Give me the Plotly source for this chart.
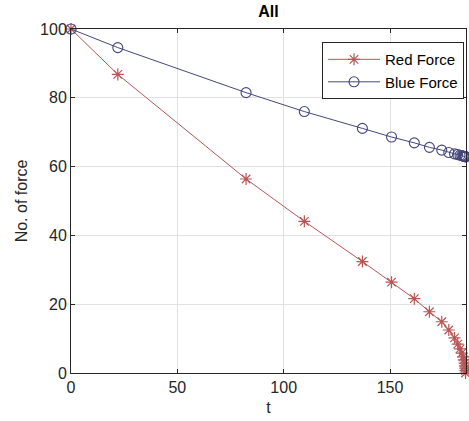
import plotly.graph_objects as go

t = [0, 22, 82.3, 109.7, 137, 150.7, 161.4, 168.5, 174.3, 177.6, 180.3, 181.8,
     182.9, 183.7, 184.3, 184.7, 185.0, 185.2, 185.35, 185.45, 185.5]
red = [100, 86.8, 56.4, 44.1, 32.4, 26.4, 21.6, 17.8, 14.9, 12.5, 10.2, 8.4,
       7.0, 5.8, 4.7, 3.8, 2.9, 2.1, 1.4, 0.7, 0.0]
blue = [100, 94.6, 81.5, 76.0, 71.1, 68.6, 66.9, 65.6, 64.8, 64.1, 63.7, 63.5,
        63.3, 63.2, 63.1, 63.0, 62.95, 62.9, 62.88, 62.86, 62.85]

x_ticks = [0, 50, 100, 150]
y_ticks = [0, 20, 40, 60, 80, 100]

FONT = "Liberation Sans, Arial, sans-serif"
AX = "#262626"

fig = go.Figure()
fig.add_trace(go.Scatter(
    x=t, y=red, mode="lines+markers", name="Red Force",
    line=dict(color="rgb(185,85,85)", width=1),
    marker=dict(symbol="asterisk-open", size=10,
                line=dict(color="rgb(205,40,50)", width=1.2)),
    cliponaxis=False))
fig.add_trace(go.Scatter(
    x=t, y=blue, mode="lines+markers", name="Blue Force",
    line=dict(color="rgb(70,70,125)", width=1),
    marker=dict(symbol="circle-open", size=10,
                line=dict(color="rgb(55,55,140)", width=1.1)),
    cliponaxis=False))

fig.update_layout(
    width=469, height=421,
    margin=dict(l=71, r=3, t=29, b=48),
    paper_bgcolor="white", plot_bgcolor="white",
    font=dict(family=FONT, size=16, color=AX),
    title=dict(text="<b>All</b>", x=0.5725, xanchor="center", y=0.972, yanchor="middle",
               font=dict(size=16, color="black")),
    legend=dict(x=0.995, xanchor="right", y=0.962, yanchor="top",
                bgcolor="white", bordercolor=AX, borderwidth=1,
                font=dict(size=15, color="black"),
                tracegroupgap=0, itemwidth=52),
    showlegend=True,
)
fig.update_xaxes(
    range=[0, 185.7], tickvals=x_ticks, ticks="inside", ticklen=4,
    tickcolor=AX, showline=True, linecolor=AX, linewidth=1, mirror="ticks",
    showgrid=True, gridcolor="rgb(225,225,225)", zeroline=False,
    title=dict(text="t", standoff=6, font=dict(size=16)),
    tickfont=dict(size=16))
fig.update_yaxes(
    range=[0, 100], tickvals=y_ticks, ticks="inside", ticklen=4,
    tickcolor=AX, showline=True, linecolor=AX, linewidth=1, mirror="ticks",
    showgrid=True, gridcolor="rgb(225,225,225)", zeroline=False,
    title=dict(text="No. of force", standoff=8, font=dict(size=16)),
    tickfont=dict(size=16))

fig.write_html("out.html")
